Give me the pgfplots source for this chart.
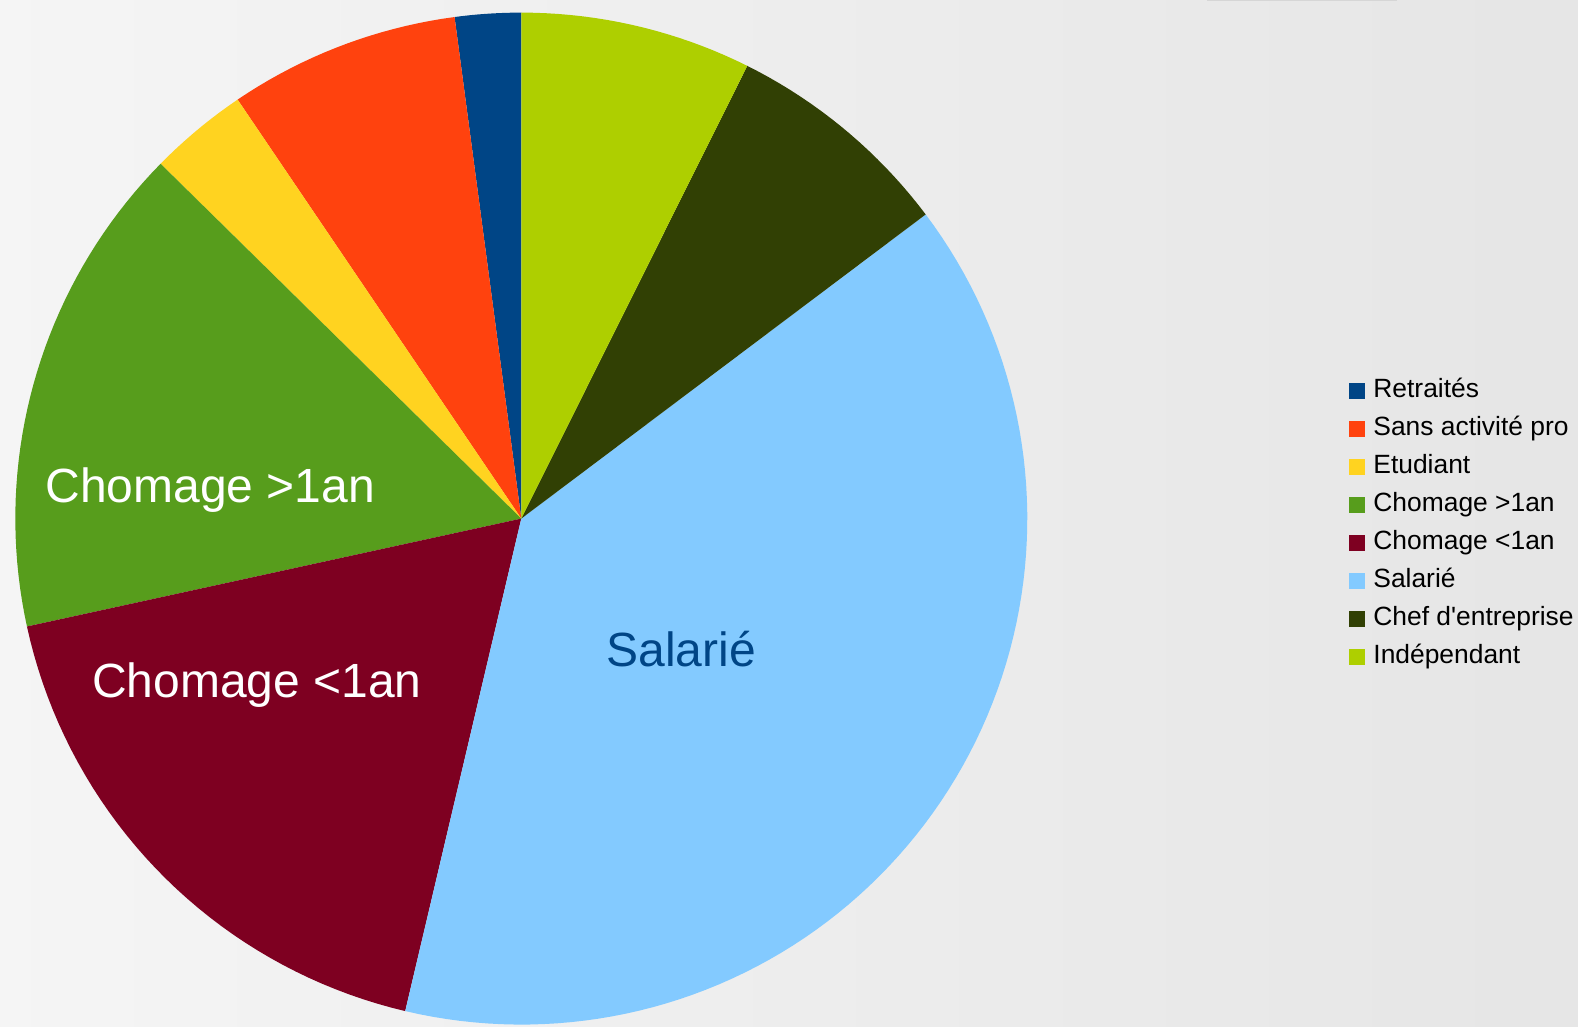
\documentclass[border=0pt]{standalone}
\usepackage{pgfplots}
\pgfplotsset{compat=1.18}
\usepackage{fontspec}
\setmainfont{Liberation Sans}
\definecolor{cRet}{HTML}{004586}
\definecolor{cSans}{HTML}{FF420E}
\definecolor{cEtu}{HTML}{FFD320}
\definecolor{cCh1}{HTML}{579D1C}
\definecolor{cCh2}{HTML}{7E0021}
\definecolor{cSal}{HTML}{83CAFF}
\definecolor{cChef}{HTML}{314004}
\definecolor{cInd}{HTML}{AECF00}
\begin{document}
\begin{tikzpicture}
% counts per category (counter-clockwise from 12 o'clock)
\def\nRet{2}\def\nSans{7}\def\nEtu{3}\def\nChA{15}\def\nChB{17}\def\nSal{37}\def\nChef{7}\def\nInd{7}
\pgfmathsetmacro{\tot}{\nRet+\nSans+\nEtu+\nChA+\nChB+\nSal+\nChef+\nInd}
\pgfmathsetmacro{\u}{360/\tot}
\pgfmathsetmacro{\aA}{90}
\pgfmathsetmacro{\aB}{\aA+\nRet*\u}
\pgfmathsetmacro{\aC}{\aB+\nSans*\u}
\pgfmathsetmacro{\aD}{\aC+\nEtu*\u}
\pgfmathsetmacro{\aE}{\aD+\nChA*\u}
\pgfmathsetmacro{\aF}{\aE+\nChB*\u}
\pgfmathsetmacro{\aG}{\aF+\nSal*\u}
\pgfmathsetmacro{\aH}{\aG+\nChef*\u}
\pgfmathsetmacro{\aI}{\aH+\nInd*\u}
\def\cx{521.3}\def\cy{508.4}\def\R{506}
\begin{axis}[
  width=789pt, height=513.5pt, scale only axis,
  xmin=0, xmax=1578, ymin=0, ymax=1027,
  hide axis,
  legend image code/.code={\fill[#1] (0pt,-4pt) rectangle (8pt,4pt);},
  legend style={at={(axis cs:1349,649)}, anchor=north west, draw=none, fill=none,
    inner sep=0pt, row sep=6.5pt,
    font=\fontsize{13.2}{15}\selectfont,
    nodes={inner sep=0pt, text height=9.5pt, text depth=3pt},
    /tikz/every odd column/.style={column sep=4pt}},
  legend cell align=left,
]
\path[left color=black!4, right color=black!10] (rel axis cs:0,0) rectangle (rel axis cs:1,1);
\draw[black!16, line width=1pt] (axis cs:1207,1027) -- (axis cs:1397,1027);
\addplot[fill=cRet, draw=none, domain=\aA:\aB, samples=10] ({\cx+\R*cos(x)},{\cy+\R*sin(x)}) -- (axis cs:\cx,\cy) -- cycle;
\addlegendentry{Retraités}
\addplot[fill=cSans, draw=none, domain=\aB:\aC, samples=20] ({\cx+\R*cos(x)},{\cy+\R*sin(x)}) -- (axis cs:\cx,\cy) -- cycle;
\addlegendentry{Sans activité pro}
\addplot[fill=cEtu, draw=none, domain=\aC:\aD, samples=10] ({\cx+\R*cos(x)},{\cy+\R*sin(x)}) -- (axis cs:\cx,\cy) -- cycle;
\addlegendentry{Etudiant}
\addplot[fill=cCh1, draw=none, domain=\aD:\aE, samples=40] ({\cx+\R*cos(x)},{\cy+\R*sin(x)}) -- (axis cs:\cx,\cy) -- cycle;
\addlegendentry{Chomage >1an}
\addplot[fill=cCh2, draw=none, domain=\aE:\aF, samples=40] ({\cx+\R*cos(x)},{\cy+\R*sin(x)}) -- (axis cs:\cx,\cy) -- cycle;
\addlegendentry{Chomage <1an}
\addplot[fill=cSal, draw=none, domain=\aF:\aG, samples=90] ({\cx+\R*cos(x)},{\cy+\R*sin(x)}) -- (axis cs:\cx,\cy) -- cycle;
\addlegendentry{Salarié}
\addplot[fill=cChef, draw=none, domain=\aG:\aH, samples=20] ({\cx+\R*cos(x)},{\cy+\R*sin(x)}) -- (axis cs:\cx,\cy) -- cycle;
\addlegendentry{Chef d\textquotesingle entreprise}
\addplot[fill=cInd, draw=none, domain=\aH:\aI, samples=20] ({\cx+\R*cos(x)},{\cy+\R*sin(x)}) -- (axis cs:\cx,\cy) -- cycle;
\addlegendentry{Indépendant}
\node[anchor=base west, inner sep=0pt, text=white, font=\fontsize{24}{28}\selectfont] at (axis cs:45,524) {Chomage >1an};
\node[anchor=base west, inner sep=0pt, text=white, font=\fontsize{24}{28}\selectfont] at (axis cs:91.7,329) {Chomage <1an};
\node[anchor=base west, inner sep=0pt, text=cRet, font=\fontsize{24}{28}\selectfont] at (axis cs:606,360) {Salarié};
\end{axis}
\end{tikzpicture}
\end{document}
